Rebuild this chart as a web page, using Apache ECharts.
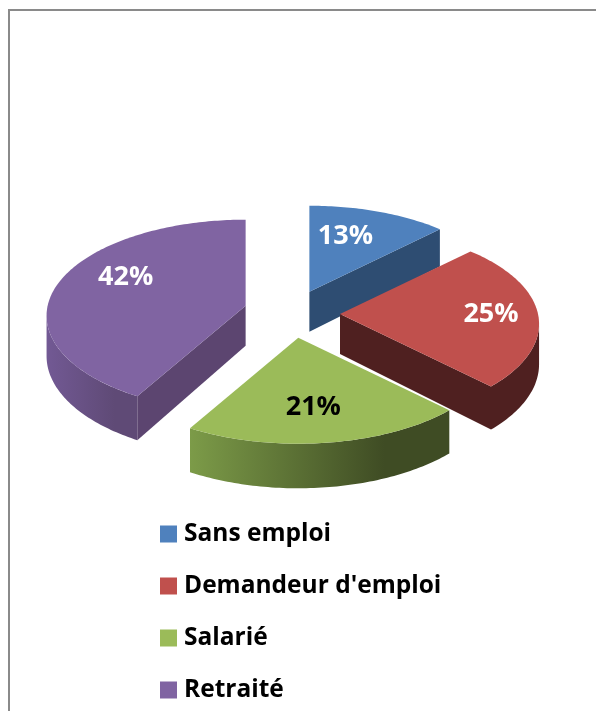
<!DOCTYPE html>
<html>
<head>
<meta charset="utf-8">
<style>
html, body { margin: 0; padding: 0; background: #fff; }
#chart { width: 596px; height: 711px; }
</style>
<script src="https://cdn.jsdelivr.net/npm/echarts@6/dist/echarts.min.js"></script>
</head>
<body>
<div id="chart"></div>
<script>
var categories = ["Sans emploi", "Demandeur d'emploi", "Salarié", "Retraité"];
// labels are rounded, the slice angles read closer to these
var percents = [12.5, 25, 20.8, 41.7];

// styles, in the same order as categories
var topColors = ['#4f81bd', '#c0504d', '#9bbb59', '#8064a2'];
var sideColors = ['#2e4d72', '#4f2020', '#3f4c24', '#5c4570'];
var rimColors = [
    ['#2e4d72', '#2e4d72'],
    ['#4f2020', '#4f2020'],
    ['#7c9b48', '#3f4c24'],
    ['#725994', '#5f4a76']
];
var labelColors = ['#fff', '#fff', '#000', '#fff'];
var labelShift = [[36, -56], [151, 0], [15, 70], [-120, -29]];
var sliceNudge = [[-1, 0], [0, 0], [0, 0], [0, -2]];

// projection of the disc
var centerX = 292, centerY = 314;
var radiusX = 198, radiusY = 95, perspective = 0.103, depth = 40;
var explodeX = 48, explodeY = 24;
var rimFrom = 96, rimTo = 264; // part of the outer wall facing the viewer

var total = percents.reduce(function (a, b) { return a + b; }, 0);
var startAngles = [];
percents.reduce(function (sum, v, i) {
    startAngles[i] = sum / total * 360;
    return sum + v;
}, 0);

function rad(d) { return d * Math.PI / 180; }

function project(apex, angle) {
    var c = -Math.cos(rad(angle));
    var s = 1 / (1 - perspective * c);
    return [apex[0] + radiusX * Math.sin(rad(angle)) * s, apex[1] + radiusY * c * s, depth * s];
}

function drop(p) { return [p[0], p[1] + p[2]]; }

function arc(apex, from, to) {
    var pts = [];
    var n = Math.max(2, Math.ceil(to - from));
    for (var i = 0; i <= n; i++) {
        pts.push(project(apex, from + (to - from) * i / n));
    }
    return pts;
}

function renderSlice(index) {
    return function (params, api) {
        var from = startAngles[index];
        var to = from + api.value(0) / total * 360;
        var mid = (from + to) / 2;
        var apex = [
            centerX + explodeX * Math.sin(rad(mid)) + sliceNudge[index][0],
            centerY - explodeY * Math.cos(rad(mid)) + sliceNudge[index][1]
        ];
        var children = [];

        function sideWall(angle) {
            var p = project(apex, angle);
            children.push({
                type: 'polygon',
                shape: { points: [apex, [p[0], p[1]], drop(p), [apex[0], apex[1] + depth]] },
                style: { fill: sideColors[index] }
            });
        }
        if (Math.sin(rad(to)) > 0.001) sideWall(to);
        if (Math.sin(rad(from)) < -0.001) sideWall(from);

        var a = Math.max(from, rimFrom), b = Math.min(to, rimTo);
        if (b > a) {
            var rim = arc(apex, a, b);
            var rimPts = rim.map(function (p) { return [p[0], p[1]]; })
                .concat(rim.slice().reverse().map(drop));
            children.push({
                type: 'polygon',
                shape: { points: rimPts },
                style: {
                    fill: new echarts.graphic.LinearGradient(0, 0, 1, 0, [
                        { offset: 0, color: rimColors[index][0] },
                        { offset: 0.75, color: rimColors[index][1] },
                        { offset: 1, color: rimColors[index][1] }
                    ])
                }
            });
        }

        var topPts = [apex].concat(arc(apex, from, to).map(function (p) { return [p[0], p[1]]; }));
        children.push({
            type: 'polygon',
            shape: { points: topPts },
            style: { fill: topColors[index] }
        });

        children.push({
            type: 'text',
            style: {
                x: apex[0] + labelShift[index][0],
                y: apex[1] + labelShift[index][1],
                text: Math.round(api.value(0)) + '%',
                fill: labelColors[index],
                font: 'bold 27px "Open Sans"',
                align: 'center',
                verticalAlign: 'middle'
            }
        });
        return { type: 'group', children: children };
    };
}

var seriesList = categories.map(function (name, i) {
    return {
        type: 'custom',
        name: name,
        coordinateSystem: 'none',
        silent: true,
        itemStyle: { color: topColors[i] },
        renderItem: renderSlice(i),
        data: [[percents[i]]]
    };
});

var myChart = echarts.init(document.getElementById('chart'), null, { renderer: 'canvas' });
myChart.setOption({
    animation: false,
    backgroundColor: '#fff',
    graphic: [
        { type: 'rect', shape: { x: 8, y: 9, width: 588, height: 2 }, style: { fill: '#8a8a8a' }, silent: true },
        { type: 'rect', shape: { x: 8, y: 9, width: 2, height: 702 }, style: { fill: '#8a8a8a' }, silent: true }
    ],
    legend: {
        orient: 'vertical',
        left: 160,
        top: 519,
        padding: 0,
        itemWidth: 17,
        itemHeight: 17,
        itemGap: 22,
        icon: 'rect',
        selectedMode: false,
        data: categories,
        textStyle: { color: '#000', fontFamily: 'Open Sans', fontWeight: 'bold', fontSize: 24.5, lineHeight: 30, padding: [0, 0, 0, 2] }
    },
    series: seriesList
});
</script>
</body>
</html>
